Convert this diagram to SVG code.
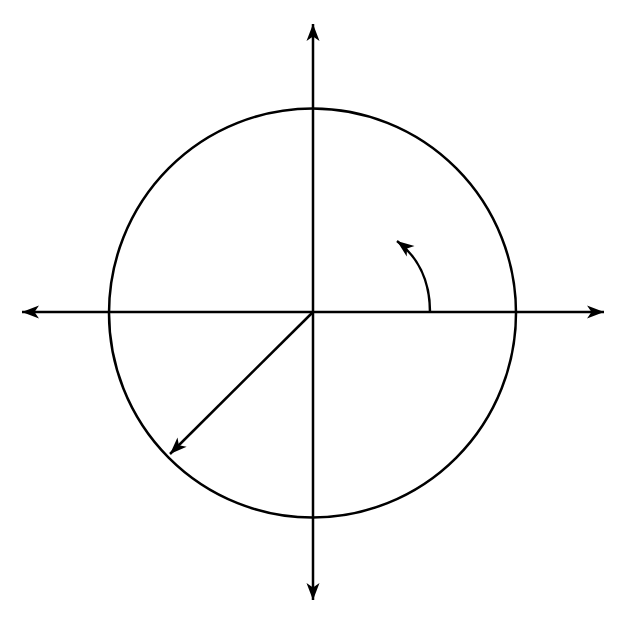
<svg xmlns="http://www.w3.org/2000/svg" width="627" height="627" viewBox="0 0 627 627">
<defs>
<marker id="ah" markerUnits="userSpaceOnUse" viewBox="-18 -8 20 16" markerWidth="20" markerHeight="16" refX="0" refY="0" orient="auto">
<path d="M0,0 L-17,-6.5 L-12.5,0 L-17,6.5 Z" fill="#000"/>
</marker>
<style>
.ln{fill:none;stroke:#000;stroke-width:2.5}
</style>
</defs>
<rect width="627" height="627" fill="#fff"/>
<g id="circle">
<ellipse class="ln" cx="312.5" cy="313" rx="203.5" ry="204.5"/>
</g>
<g id="connectors">
<line class="ln" x1="313" y1="312" x2="313" y2="24" marker-end="url(#ah)"/>
<line class="ln" x1="313" y1="312" x2="313" y2="600" marker-end="url(#ah)"/>
<line class="ln" x1="313" y1="312" x2="22" y2="312" marker-end="url(#ah)"/>
<line class="ln" x1="313" y1="312" x2="604" y2="312" marker-end="url(#ah)"/>
<line class="ln" x1="313" y1="312" x2="170" y2="454" marker-end="url(#ah)"/>
<path class="ln" d="M430,312 C430,280 417,256 397,241" marker-end="url(#ah)"/>
</g>
</svg>
